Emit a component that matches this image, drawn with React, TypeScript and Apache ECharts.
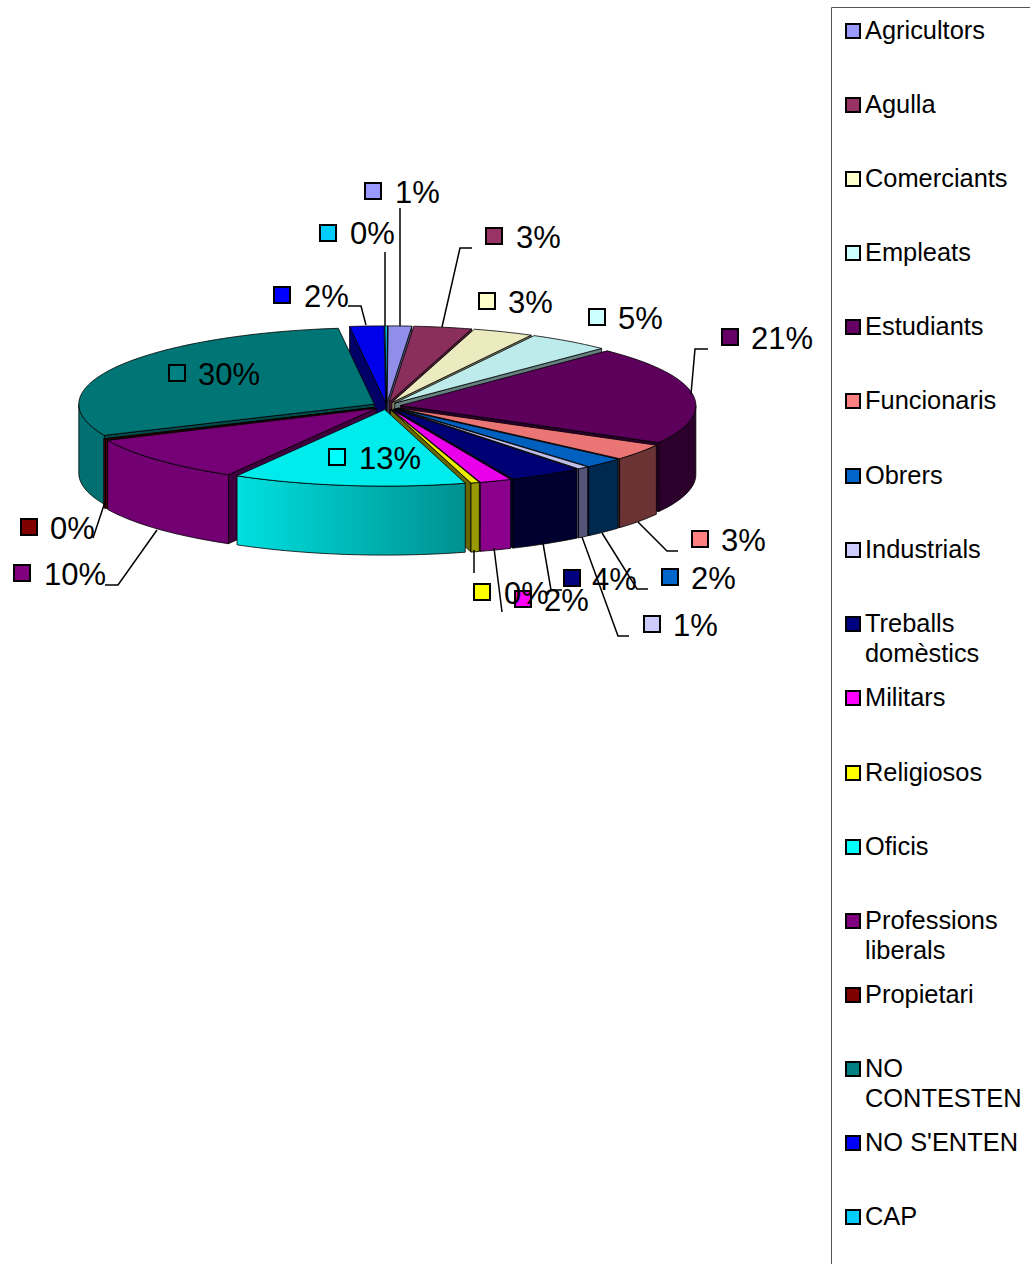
import React, { useEffect, useRef } from "react";
import * as echarts from "echarts";

const categories = ["Agricultors","Agulla","Comerciants","Empleats","Estudiants","Funcionaris","Obrers","Industrials","Treballs domèstics","Militars","Religiosos","Oficis","Professions liberals","Propietari","NO CONTESTEN","NO S'ENTEN","CAP"];
const shares = [1.28,3.17,3.31,4.52,20.72,3.44,2.22,0.64,4.03,1.75,0.47,12.72,9.81,0.19,29.72,1.86,0.14];
const percentLabels = ["1%","3%","3%","5%","21%","3%","2%","1%","4%","2%","0%","13%","10%","0%","30%","2%","0%"];
const swatchColors = ["#9999ff","#993366","#ffffcc","#ccffff","#660066","#ff8080","#0066cc","#ccccff","#000080","#ff00ff","#ffff00","#00ffff","#800080","#800000","#008080","#0000ff","#00ccff"];
const topColors = ["#8f8fea","#8a2e5c","#ebebbf","#bdebeb","#5c005c","#eb7575","#0060bf","#bfbfeb","#000075","#eb00eb","#ebeb00","#00ebeb","#750075","#750000","#007575","#0000eb","#00bfeb"];
const sideColors = ["#66669a","#662244","#8f8f7a","#6f8a8a","#2b002b","#6b3333","#00294f","#55557a","#00002f","#8a008a","#999900","#00a8a8","#720072","#600000","#007070","#00007a","#007a9a"];
const wallColors = ["#55557f","#4d1933","#7f7f66","#668080","#2b002b","#4d2a2a","#00203f","#55557a","#00002a","#660066","#666600","#007f7f","#400040","#400000","#004d4d","#000066","#006680"];

const legendRows = [30,104,178,252,326,400,475,549,623,697,772,846,920,994,1068,1142,1216];
const legendLines = [["Agricultors"],["Agulla"],["Comerciants"],["Empleats"],["Estudiants"],["Funcionaris"],["Obrers"],["Industrials"],["Treballs","domèstics"],["Militars"],["Religiosos"],["Oficis"],["Professions","liberals"],["Propietari"],["NO","CONTESTEN"],["NO S'ENTEN"],["CAP"]];

const labelSwatches = [[373,191],[494,236],[487,301],[597,317],[730,337],[700,539],[670,577],[652,624],[572,578],[523,599],[482,592],[337,457],[22,573],[29,527],[177,373],[282,295],[328,233]];
const labelTexts = [[395,192],[516,237],[508,302],[618,318],[751,338],[721,540],[691,578],[673,625],[592,579],[544,600],[504,593],[359,458],[44,574],[50,528],[198,374],[304,296],[350,233]];
const leaders = [
  [[400,208],[400,326]],
  [[472,248],[460,248],[442,327]],
  [],
  [],
  [[708,349],[695,349],[691,394]],
  [[678,551],[667,551],[638,522]],
  [[648,589],[637,589],[602,533]],
  [[629,636],[618,636],[582,537]],
  [[543,543],[551,590],[562,590]],
  [[494,548],[502,612]],
  [[474,550],[474,573]],
  [],
  [[105,585],[118,585],[157,530]],
  [[93,538],[105,502]],
  [],
  [[348,306],[361,306],[366,325]],
  [[385,252],[385,326]],
];

const CX = 386.5, CY = 406, RX = 295.5, RY = 76.5, DEPTH = 69, EXPLODE = 14, START = 0.2;
const rad = (d: number) => (d * Math.PI) / 180;
const sin = (d: number) => Math.sin(rad(d));
const cos = (d: number) => Math.cos(rad(d));

const total = shares.reduce((a, b) => a + b, 0);
let acc = START;
const slices = shares.map((v) => {
  const a0 = acc;
  const a1 = acc + (v / total) * 360;
  acc = a1;
  const mid = (a0 + a1) / 2;
  return { a0, a1, mid, ax: CX + EXPLODE * sin(mid), ay: CY - EXPLODE * (RY / RX) * cos(mid) };
});
const ranks = slices.map((s, i) => i).sort((p, q) => cos(slices[q].mid) - cos(slices[p].mid));

function renderItem(params: any) {
  const i = params.dataIndex;
  const s = slices[i];
  const rank = ranks.indexOf(i) * 10 + 10;
  const rim = (a: number, dy = 0) => [s.ax + RX * sin(a), s.ay - RY * cos(a) + dy];
  const stroke = { stroke: "#000", lineWidth: 0.8, lineJoin: "round" };
  const arc = (a: number, b: number, dy = 0) => {
    const n = Math.max(2, Math.ceil(Math.abs(b - a) / 1.5));
    const pts: number[][] = [];
    for (let k = 0; k <= n; k++) pts.push(rim(a + ((b - a) * k) / n, dy));
    return pts;
  };
  const children: any[] = [];
  const wall = (a: number) => {
    const p = rim(a);
    children.push({
      type: "polygon", z2: rank,
      shape: { points: [[s.ax, s.ay], p, [p[0], p[1] + DEPTH], [s.ax, s.ay + DEPTH]] },
      style: { fill: wallColors[i], ...stroke },
    });
  };
  if (sin(s.a0) < 0) wall(s.a0);
  if (sin(s.a1) > 0) wall(s.a1);
  const from = Math.max(s.a0, 90), to = Math.min(s.a1, 270);
  if (to > from) {
    const isGradient = i === 11;
    children.push({
      type: "polygon", z2: rank + 1,
      shape: { points: [...arc(from, to), ...arc(to, from, DEPTH)] },
      style: {
        fill: isGradient
          ? new echarts.graphic.LinearGradient(0, 0, 1, 0, [
              { offset: 0, color: "#00e0e0" },
              { offset: 1, color: "#009090" },
            ])
          : sideColors[i],
        ...stroke,
      },
    });
  }
  children.push({
    type: "polygon", z2: rank + 2,
    shape: { points: [[s.ax, s.ay], ...arc(s.a0, s.a1)] },
    style: { fill: topColors[i], ...stroke },
  });
  return { type: "group", children };
}

function swatch(x: number, y: number, fill: string, size: number, z: number) {
  return {
    type: "rect", z, silent: true,
    shape: { x: x - size / 2, y: y - size / 2, width: size, height: size },
    style: { fill, stroke: "#000", lineWidth: 2 },
  };
}
function text(x: number, y: number, t: string, size: number, z: number) {
  return {
    type: "text", z, silent: true, x, y,
    style: { text: t, font: `${size}px "Liberation Sans", Arial, sans-serif`, fill: "#000", align: "left", verticalAlign: "middle" },
  };
}

function buildGraphics() {
  const els: any[] = [];
  els.push({
    type: "rect", z: 50, silent: true,
    shape: { x: 831.5, y: 7.5, width: 400, height: 1500 },
    style: { fill: "#fff", stroke: "#555", lineWidth: 1 },
  });
  categories.forEach((_, i) => {
    els.push(swatch(853, legendRows[i] + 1, swatchColors[i], 14, 60));
    legendLines[i].forEach((line, k) => els.push(text(865, legendRows[i] + k * 29.5, line, 25.4, 60)));
  });
  categories.forEach((_, i) => {
    const pts = leaders[i];
    if (pts.length) {
      els.push({
        type: "polyline", z: 70 + i, silent: true,
        shape: { points: pts },
        style: { fill: "none", stroke: "#000", lineWidth: 1.5 },
      });
    }
    els.push(swatch(labelSwatches[i][0], labelSwatches[i][1], swatchColors[i], 16, 70 + i));
    els.push(text(labelTexts[i][0], labelTexts[i][1], percentLabels[i], 31, 70 + i));
  });
  return els;
}

export default function App() {
  const ref = useRef<HTMLDivElement>(null);
  useEffect(() => {
    const chart = echarts.init(ref.current!, undefined, { renderer: "svg" });
    chart.setOption({
      animation: false,
      backgroundColor: "#fff",
      series: [{
        type: "custom",
        coordinateSystem: "none",
        silent: true,
        data: shares,
        renderItem,
      }],
      graphic: { elements: buildGraphics() },
    });
    return () => chart.dispose();
  }, []);
  return <div ref={ref} style={{ position: "absolute", left: 0, top: 0, width: 1030, height: 1264 }} />;
}
